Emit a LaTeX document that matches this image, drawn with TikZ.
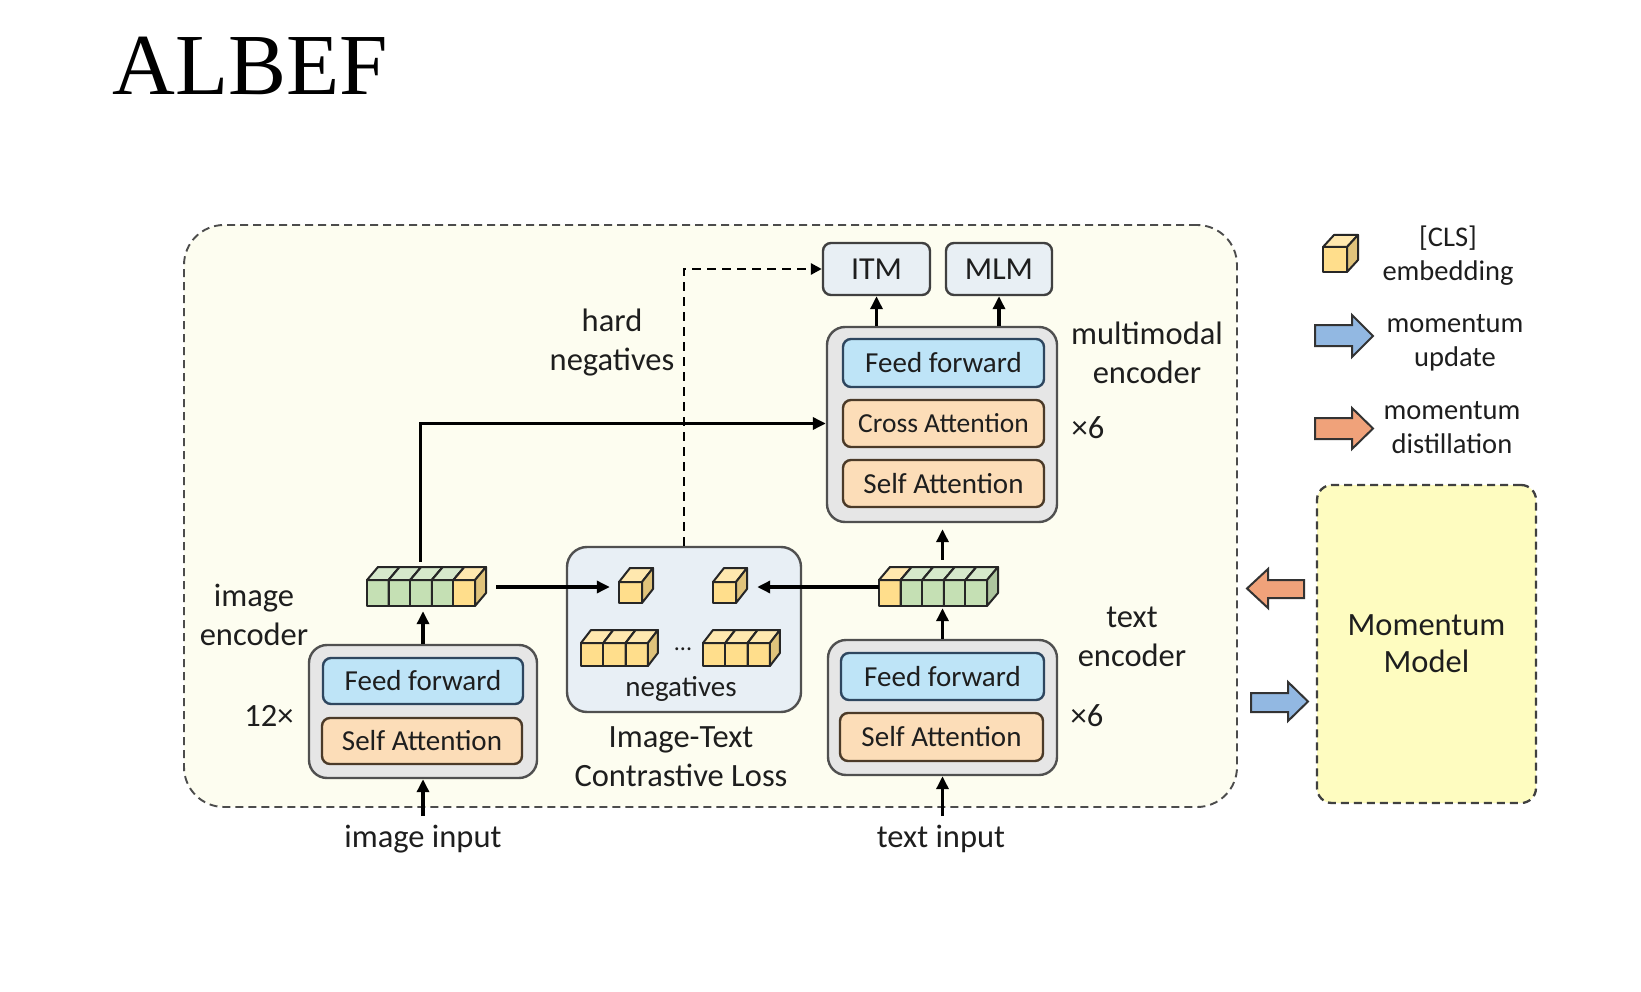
\documentclass[tikz,border=0pt]{standalone}
\usepackage{fontspec}
\setmainfont{Carlito}
\newfontfamily\titlefont{Liberation Serif}
\usetikzlibrary{arrows.meta}
\definecolor{outerfill}{RGB}{253,253,240}
\definecolor{encfill}{RGB}{230,230,230}
\definecolor{encdraw}{RGB}{80,80,80}
\definecolor{fffill}{RGB}{190,228,247}
\definecolor{ffdraw}{RGB}{46,70,95}
\definecolor{attfill}{RGB}{252,221,184}
\definecolor{attdraw}{RGB}{75,58,40}
\definecolor{headfill}{RGB}{232,239,244}
\definecolor{itcfill}{RGB}{232,239,245}
\definecolor{cubeyellow}{RGB}{255,222,140}
\definecolor{cubegreen}{RGB}{197,224,180}
\definecolor{mmfill}{RGB}{254,252,192}
\definecolor{orangearr}{RGB}{240,162,122}
\definecolor{bluearr}{RGB}{146,184,226}
\definecolor{txtcol}{RGB}{30,30,30}
\def\cdx{11}
\def\cdy{13}
\newcommand\cubeat[5]{%
  \filldraw[cubeline, fill=#5] ({#1},{#2}) rectangle ++(#3,#4);
  \filldraw[cubeline, fill=#5!70!white] ({#1},{#2}) -- ++(\cdx,-\cdy) -- ++(#3,0) -- ++(-\cdx,\cdy) -- cycle;
  \filldraw[cubeline, fill=#5!88!black] ({#1+#3},{#2}) -- ++(\cdx,-\cdy) -- ++(0,#4) -- ++(-\cdx,\cdy) -- cycle;
}
\begin{document}
\begin{tikzpicture}[x=1pt,y=-1pt,
  outerbox/.style={draw=black!70, dash pattern=on 8pt off 5pt, line width=1.9pt, fill=outerfill, rounded corners=40pt, inner sep=0pt},
  mmbox/.style={draw=black!75, dash pattern=on 8pt off 5pt, line width=2.3pt, fill=mmfill, rounded corners=15pt, inner sep=0pt, align=center, text=txtcol, font=\fontsize{32.5}{37}\selectfont},
  encbox/.style={draw=encdraw, line width=2.4pt, fill=encfill, rounded corners=18pt, inner sep=0pt},
  itcbox/.style={draw=encdraw, line width=2.4pt, fill=itcfill, rounded corners=20pt, inner sep=0pt},
  ffbox/.style={draw=ffdraw, line width=2.4pt, fill=fffill, rounded corners=8pt, minimum width=200pt, minimum height=46pt, inner sep=0pt, text=txtcol, font=\fontsize{29}{34}\selectfont},
  attbox/.style={draw=attdraw, line width=2.4pt, fill=attfill, rounded corners=8pt, minimum width=200pt, minimum height=46pt, inner sep=0pt, text=txtcol, font=\fontsize{29}{34}\selectfont},
  headbox/.style={draw=black!75, line width=2.4pt, fill=headfill, rounded corners=8pt, minimum width=107pt, minimum height=52pt, inner sep=0pt, text=txtcol, font=\fontsize{32}{38}\selectfont},
  lbl/.style={align=center, inner sep=0pt, text=txtcol, font=\fontsize{32.5}{39}\selectfont},
  leg/.style={align=center, inner sep=0pt, text=txtcol, font=\fontsize{28.5}{34}\selectfont},
  holder/.style={inner sep=0pt, draw=none},
  cubeline/.style={draw=black!85, line width=2pt, line join=round},
  arr/.style={line width=3.3pt, draw=black, -{Triangle[length=13pt,width=12pt]}},
  dasharr/.style={line width=2.8pt, draw=black, dash pattern=on 9pt off 6pt, -{Triangle[length=11pt,width=11pt]}},
  blockarr/.style={draw=black!80, line width=2pt, line join=miter}
]
\fill[white] (0,0) rectangle (1641,992);
\useasboundingbox (0,0) rectangle (1641,992);

% title
\node[anchor=base west, inner sep=0pt, font=\titlefont\fontsize{87}{96}\selectfont] (title) at (112,95) {ALBEF};

% frames
\node[outerbox, minimum width=1053pt, minimum height=582pt] (frame) at (710.5,516) {};
\node[mmbox, minimum width=219pt, minimum height=318pt] (mm) at (1426.5,644) {Momentum\\Model};

% image encoder
\node[encbox, minimum width=228pt, minimum height=133pt] (imgenc) at (423,711.5) {};
\node[ffbox] (imgff) at (423,681) {Feed forward};
\node[attbox] (imgsa) at (422,741) {Self Attention};
\node[lbl] (imgenclbl) at (254,615) {image\\encoder};
\node[lbl] (imgrep) at (269,716) {12×};
\node[lbl] (imginput) at (423,839) {image input};
\coordinate (imgsrc) at (423,816);

% text encoder
\node[encbox, minimum width=229pt, minimum height=135pt] (txtenc) at (942.5,707.5) {};
\node[ffbox, minimum width=203pt, minimum height=47pt] (txtff) at (942.5,676.5) {Feed forward};
\node[attbox, minimum width=203pt, minimum height=48pt] (txtsa) at (941.5,737) {Self Attention};
\node[lbl] (txtenclbl) at (1132,637) {text\\encoder};
\node[lbl] (txtrep) at (1087,716) {×6};
\node[lbl] (txtinput) at (941,839) {text input};
\coordinate (txtsrc) at (942.5,816);

% multimodal encoder
\node[encbox, minimum width=230pt, minimum height=195pt] (mmenc) at (942,424.5) {};
\node[ffbox, minimum width=201pt, minimum height=48pt] (mmff) at (943.5,363) {Feed forward};
\node[attbox, minimum width=201pt, minimum height=47pt, font=\fontsize{27.5}{32}\selectfont] (mmca) at (943.5,423.5) {Cross Attention};
\node[attbox, minimum width=201pt, minimum height=47pt] (mmsa) at (943.5,483.5) {Self Attention};
\node[lbl] (mmlbl) at (1147,353) {multimodal\\encoder};
\node[lbl] (mmrep) at (1088,428) {×6};
\node[headbox] (itm) at (876.5,269) {ITM};
\node[headbox, minimum width=106pt] (mlm) at (999,269) {MLM};

% contrastive loss
\node[itcbox, minimum width=234pt, minimum height=165pt] (itc) at (684,629.5) {};
\node[leg, font=\fontsize{29}{34}\selectfont] (negs) at (681,689) {negatives};
\node[lbl] (itclbl) at (681,757) {Image-Text\\Contrastive Loss};
\node[lbl] (hardlbl) at (612,343) {hard\\negatives};

% token strips and cubes
\node[holder, minimum width=119pt, minimum height=38pt] (imgstrip) at (426.5,587) {};
\foreach \i in {0,...,3} {\cubeat{367+21.6*\i}{580}{21.6}{26}{cubegreen}}
\cubeat{367+21.6*4}{580}{21.6}{26}{cubeyellow}
\node[holder, minimum width=119pt, minimum height=38pt] (txtstrip) at (938.5,587) {};
\cubeat{879}{580}{21.6}{26}{cubeyellow}
\foreach \i in {1,...,4} {\cubeat{879+21.6*\i}{580}{21.6}{26}{cubegreen}}

\begingroup
\def\cdy{14}
\node[holder, minimum width=34pt, minimum height=36pt] (cubeA) at (636,585) {};
\cubeat{619}{582}{23}{21}{cubeyellow}
\node[holder, minimum width=34pt, minimum height=36pt] (cubeB) at (730,585) {};
\cubeat{713}{582}{23}{21}{cubeyellow}
\endgroup

\begingroup
\def\cdx{10}
\node[holder, minimum width=77pt, minimum height=36pt] (negL) at (619.5,648) {};
\foreach \i in {0,1,2} {\cubeat{581+22.3*\i}{643}{22.3}{23}{cubeyellow}}
\node[holder, minimum width=77pt, minimum height=36pt] (negR) at (741.5,648) {};
\foreach \i in {0,1,2} {\cubeat{703+22.3*\i}{643}{22.3}{23}{cubeyellow}}
\endgroup
\node[anchor=base, inner sep=0pt, text=txtcol, font=\fontsize{24}{28}\selectfont] (dots) at (683,650) {...};

% legend
\node[holder, minimum width=35pt, minimum height=37pt] (legcube) at (1340.5,253.5) {};
\begingroup
\def\cdy{12}
\cubeat{1323}{247}{24}{25}{cubeyellow}
\endgroup
\node[leg] (legcls) at (1448,256) {[CLS]\\embedding};
\filldraw[blockarr, fill=bluearr] (1315,325) -- (1352,325) -- (1352,315) -- (1373,336) -- (1352,357) -- (1352,346) -- (1315,346) -- cycle;
\node[leg] (legupd) at (1455,343) {momentum\\update};
\filldraw[blockarr, fill=orangearr] (1315,418) -- (1352,418) -- (1352,408) -- (1373,428.5) -- (1352,449) -- (1352,439) -- (1315,439) -- cycle;
\node[leg] (legdist) at (1452,428) {momentum\\distillation};

% momentum arrows
\filldraw[blockarr, fill=orangearr] (1304,580) -- (1268,580) -- (1268,569) -- (1247,588.5) -- (1268,608) -- (1268,598) -- (1304,598) -- cycle;
\filldraw[blockarr, fill=bluearr] (1251,693) -- (1288,693) -- (1288,682) -- (1308,701.5) -- (1288,721) -- (1288,712) -- (1251,712) -- cycle;

% connectors
\draw[arr] (imgsrc) -- (imgenc.south -| imgsrc);
\draw[arr] (txtsrc) -- (txtenc.south -| txtsrc);
\draw[arr, shorten >=5pt] (imgenc.north) -- (imgenc.north |- imgstrip.south);
\draw[arr, shorten >=2pt] (txtenc.north) -- (txtenc.north |- txtstrip.south);
\draw[arr, shorten <=8pt, shorten >=6pt] (txtenc.north |- txtstrip.north) -- (txtenc.north |- mmenc.south);
\draw[arr] ([xshift=-6pt,yshift=6pt]imgstrip.north) |- (mmenc.west |- mmca.west);
\draw[arr, shorten <=10pt, shorten >=9pt] (imgstrip.east) -- (imgstrip.east -| cubeA.west);
\draw[arr, shorten >=10pt] (txtstrip.west) -- (txtstrip.west -| cubeB.east);
\draw[dasharr] (itc.north) |- (itm.west);
\draw[arr] (itm.south |- mmenc.north) -- (itm.south);
\draw[arr] (mlm.south |- mmenc.north) -- (mlm.south);
\end{tikzpicture}
\end{document}
